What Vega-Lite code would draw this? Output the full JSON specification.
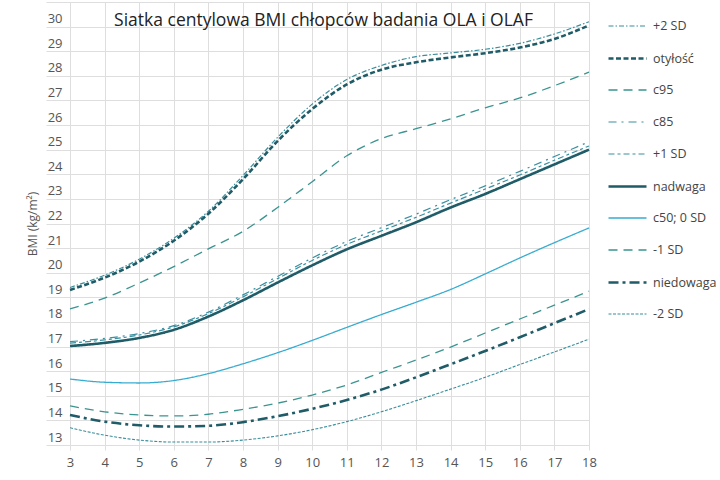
{
  "$schema": "https://vega.github.io/schema/vega-lite/v6.json",
  "width": 519,
  "height": 443,
  "autosize": {"type": "none"},
  "padding": {"left": 70, "top": 2, "right": 131, "bottom": 35},
  "background": "white",
  "title": {
    "text": "Siatka centylowa BMI chłopców badania OLA i OLAF",
    "font": "Open Sans",
    "fontSize": 17.5,
    "fontWeight": "normal",
    "color": "#222222",
    "anchor": "middle",
    "baseline": "middle",
    "offset": -37,
    "dx": -6
  },
  "data": {
    "values": [
      {"age": 3, "+2 SD": 19.4, "otyłość": 19.3, "c95": 18.53, "c85": 17.2, "+1 SD": 17.14, "nadwaga": 17.02, "c50; 0 SD": 15.68, "-1 SD": 14.59, "niedowaga": 14.22, "-2 SD": 13.7},
      {"age": 4, "+2 SD": 19.9, "otyłość": 19.8, "c95": 18.97, "c85": 17.33, "+1 SD": 17.27, "nadwaga": 17.15, "c50; 0 SD": 15.55, "-1 SD": 14.35, "niedowaga": 13.95, "-2 SD": 13.4},
      {"age": 5, "+2 SD": 20.55, "otyłość": 20.45, "c95": 19.58, "c85": 17.53, "+1 SD": 17.47, "nadwaga": 17.35, "c50; 0 SD": 15.52, "-1 SD": 14.22, "niedowaga": 13.8, "-2 SD": 13.2},
      {"age": 6, "+2 SD": 21.4, "otyłość": 21.3, "c95": 20.25, "c85": 17.85, "+1 SD": 17.8, "nadwaga": 17.68, "c50; 0 SD": 15.62, "-1 SD": 14.18, "niedowaga": 13.75, "-2 SD": 13.12},
      {"age": 7, "+2 SD": 22.5, "otyłość": 22.4, "c95": 20.97, "c85": 18.4, "+1 SD": 18.34, "nadwaga": 18.22, "c50; 0 SD": 15.9, "-1 SD": 14.25, "niedowaga": 13.78, "-2 SD": 13.12},
      {"age": 8, "+2 SD": 23.95, "otyłość": 23.8, "c95": 21.68, "c85": 19.1, "+1 SD": 19.02, "nadwaga": 18.88, "c50; 0 SD": 16.3, "-1 SD": 14.45, "niedowaga": 13.93, "-2 SD": 13.2},
      {"age": 9, "+2 SD": 25.5, "otyłość": 25.35, "c95": 22.65, "c85": 19.85, "+1 SD": 19.76, "nadwaga": 19.6, "c50; 0 SD": 16.75, "-1 SD": 14.7, "niedowaga": 14.17, "-2 SD": 13.37},
      {"age": 10, "+2 SD": 26.85, "otyłość": 26.65, "c95": 23.7, "c85": 20.6, "+1 SD": 20.5, "nadwaga": 20.3, "c50; 0 SD": 17.25, "-1 SD": 15.03, "niedowaga": 14.47, "-2 SD": 13.62},
      {"age": 11, "+2 SD": 27.85, "otyłość": 27.65, "c95": 24.75, "c85": 21.27, "+1 SD": 21.15, "nadwaga": 20.95, "c50; 0 SD": 17.78, "-1 SD": 15.44, "niedowaga": 14.83, "-2 SD": 13.95},
      {"age": 12, "+2 SD": 28.42, "otyłość": 28.25, "c95": 25.45, "c85": 21.83, "+1 SD": 21.7, "nadwaga": 21.5, "c50; 0 SD": 18.3, "-1 SD": 15.95, "niedowaga": 15.25, "-2 SD": 14.35},
      {"age": 13, "+2 SD": 28.78, "otyłość": 28.55, "c95": 25.85, "c85": 22.38, "+1 SD": 22.25, "nadwaga": 22.05, "c50; 0 SD": 18.8, "-1 SD": 16.45, "niedowaga": 15.75, "-2 SD": 14.8},
      {"age": 14, "+2 SD": 28.93, "otyłość": 28.75, "c95": 26.25, "c85": 22.97, "+1 SD": 22.83, "nadwaga": 22.65, "c50; 0 SD": 19.32, "-1 SD": 16.98, "niedowaga": 16.28, "-2 SD": 15.27},
      {"age": 15, "+2 SD": 29.08, "otyłość": 28.92, "c95": 26.7, "c85": 23.53, "+1 SD": 23.4, "nadwaga": 23.2, "c50; 0 SD": 19.95, "-1 SD": 17.55, "niedowaga": 16.82, "-2 SD": 15.75},
      {"age": 16, "+2 SD": 29.32, "otyłość": 29.15, "c95": 27.1, "c85": 24.12, "+1 SD": 23.97, "nadwaga": 23.8, "c50; 0 SD": 20.6, "-1 SD": 18.12, "niedowaga": 17.38, "-2 SD": 16.27},
      {"age": 17, "+2 SD": 29.7, "otyłość": 29.5, "c95": 27.6, "c85": 24.72, "+1 SD": 24.57, "nadwaga": 24.4, "c50; 0 SD": 21.22, "-1 SD": 18.68, "niedowaga": 17.95, "-2 SD": 16.78},
      {"age": 18, "+2 SD": 30.2, "otyłość": 30.05, "c95": 28.15, "c85": 25.32, "+1 SD": 25.15, "nadwaga": 25.0, "c50; 0 SD": 21.82, "-1 SD": 19.25, "niedowaga": 18.52, "-2 SD": 17.3}
    ]
  },
  "transform": [
    {"fold": ["+2 SD", "otyłość", "c95", "c85", "+1 SD", "nadwaga", "c50; 0 SD", "-1 SD", "niedowaga", "-2 SD"], "as": ["series", "bmi"]}
  ],
  "mark": {"type": "line", "interpolate": "monotone"},
  "encoding": {
    "x": {
      "field": "age",
      "type": "quantitative",
      "scale": {"domain": [3, 18], "nice": false, "zero": false},
      "axis": {
        "title": null,
        "values": [3, 3.5, 4, 4.5, 5, 5.5, 6, 6.5, 7, 7.5, 8, 8.5, 9, 9.5, 10, 10.5, 11, 11.5, 12, 12.5, 13, 13.5, 14, 14.5, 15, 15.5, 16, 16.5, 17, 17.5, 18],
        "format": "d",
        "labelExpr": "datum.value % 1 === 0 ? datum.label : ''",
        "grid": true,
        "gridColor": "#dedede",
        "gridWidth": 1,
        "domain": false,
        "ticks": true,
        "tickSize": 5,
        "tickColor": "#dedede",
        "labelFont": "Open Sans",
        "labelFontSize": 13,
        "labelColor": "#555555",
        "labelPadding": 6,
        "labelFlush": false
      }
    },
    "y": {
      "field": "bmi",
      "type": "quantitative",
      "scale": {"domain": [13, 31], "nice": false, "zero": false},
      "axis": {
        "title": "BMI (kg/m²)",
        "titleFont": "Open Sans",
        "titleFontSize": 12,
        "titleFontWeight": "normal",
        "titleColor": "#555555",
        "titlePadding": 6,
        "values": [13, 14, 15, 16, 17, 18, 19, 20, 21, 22, 23, 24, 25, 26, 27, 28, 29, 30, 31],
        "format": "d",
        "labelExpr": "datum.value < 31 ? datum.label : ''",
        "grid": true,
        "gridColor": "#dedede",
        "gridWidth": 1,
        "domain": false,
        "ticks": true,
        "tickSize": 24,
        "tickColor": "#dedede",
        "labelFont": "Open Sans",
        "labelFontSize": 13,
        "labelColor": "#555555",
        "labelPadding": -16,
        "labelOffset": -8,
        "labelFlush": false
      }
    },
    "color": {
      "field": "series",
      "type": "nominal",
      "scale": {
        "domain": ["+2 SD", "otyłość", "c95", "c85", "+1 SD", "nadwaga", "c50; 0 SD", "-1 SD", "niedowaga", "-2 SD"],
        "range": ["#3a8e9c", "#1f5c68", "#3a9490", "#3a8fa0", "#3a8fa0", "#1f5c68", "#38acd0", "#3a9490", "#1f5c68", "#3a8e9c"]
      },
      "legend": {
        "title": null,
        "orient": "none",
        "legendX": 537,
        "legendY": 4,
        "symbolType": "stroke",
        "symbolSize": 1444,
        "rowPadding": 5,
        "labelFont": "Open Sans",
        "labelFontSize": 12.5,
        "labelColor": "#444444",
        "labelOffset": 5
      }
    },
    "strokeDash": {
      "field": "series",
      "type": "nominal",
      "scale": {
        "domain": ["+2 SD", "otyłość", "c95", "c85", "+1 SD", "nadwaga", "c50; 0 SD", "-1 SD", "niedowaga", "-2 SD"],
        "range": [[5, 2, 1.5, 2], [5, 2.5], [9, 6], [8, 5, 2, 5], [6, 3, 3, 3], [1, 0], [1, 0], [9, 6], [10, 4, 3, 4], [3, 1.5]]
      }
    },
    "strokeWidth": {
      "field": "series",
      "type": "nominal",
      "scale": {
        "type": "ordinal",
        "domain": ["+2 SD", "otyłość", "c95", "c85", "+1 SD", "nadwaga", "c50; 0 SD", "-1 SD", "niedowaga", "-2 SD"],
        "range": [1.2, 2.6, 1.3, 1.2, 1.2, 2.6, 1.3, 1.3, 2.6, 1.1]
      }
    }
  }
}
